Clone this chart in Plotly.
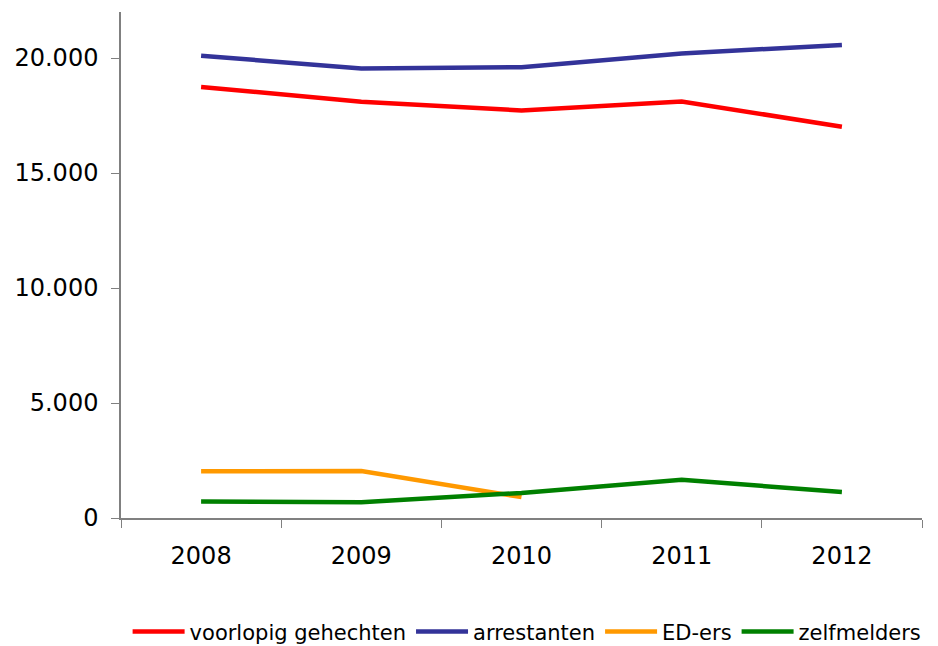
import plotly.graph_objects as go

years = ["2008", "2009", "2010", "2011", "2012"]
voorlopig = [18740, 18100, 17720, 18110, 17010]
arrestanten = [20100, 19540, 19600, 20200, 20570]
ed_ers = [2030, 2040, 910, None, None]
zelfmelders = [720, 690, 1090, 1660, 1130]

series = [
    ("voorlopig gehechten", voorlopig, "#FF0000"),
    ("arrestanten", arrestanten, "#333399"),
    ("ED-ers", ed_ers, "#FF9900"),
    ("zelfmelders", zelfmelders, "#008000"),
]

fig = go.Figure()
for name, vals, color in series:
    fig.add_trace(go.Scatter(x=years, y=vals, name=name, mode="lines",
                             line=dict(color=color, width=4.5), connectgaps=False))

font = "Verdana, DejaVu Sans, sans-serif"
fig.update_layout(
    width=930, height=638,
    margin=dict(l=113, r=16, t=4, b=128, autoexpand=False),
    paper_bgcolor="white", plot_bgcolor="white",
    separators=",.",
    font=dict(family=font, size=24, color="#000000"),
    showlegend=True,
    legend=dict(orientation="h", x=0.507, xanchor="center",
                y=-0.225, yanchor="middle",
                font=dict(size=21), itemwidth=52, tracegroupgap=0,
                bgcolor="rgba(0,0,0,0)"),
)
fig.update_xaxes(type="category", range=[-0.5, 4.5], showgrid=False, showline=True,
                 linecolor="#808080", automargin=False,
                 linewidth=1.5, ticks="outside", tickson="boundaries", ticklen=8,
                 tickcolor="#808080", ticklabelstandoff=15, zeroline=False,
                 tickfont=dict(size=24))
fig.update_yaxes(range=[0, 22000], showgrid=False, showline=True, linecolor="#808080",
                 linewidth=1.5, ticks="outside", ticklen=8, tickcolor="#808080",
                 automargin=False,
                 tickvals=[0, 5000, 10000, 15000, 20000], tickformat=",",
                 ticklabelstandoff=8, zeroline=False, tickfont=dict(size=24))

fig.write_html("out.html")
